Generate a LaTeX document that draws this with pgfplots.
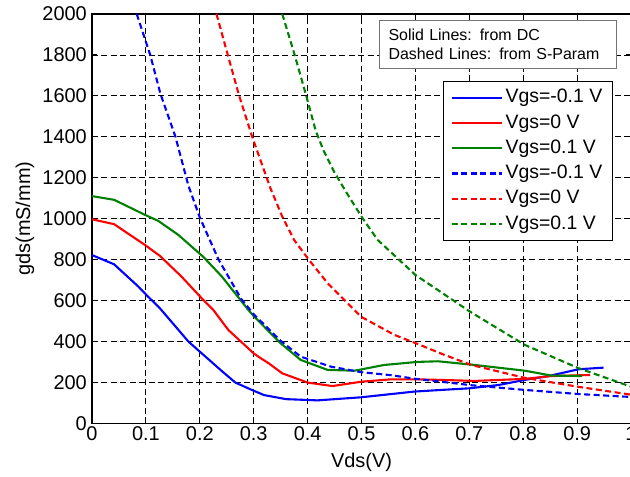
\documentclass[border=0pt]{standalone}
\usepackage{fontspec}
\setmainfont{Liberation Sans}
\usepackage{pgfplots}
\pgfplotsset{compat=1.18}
\definecolor{mgreen}{rgb}{0,0.5,0}
\begin{document}
\begin{tikzpicture}
\begin{axis}[
  at={(0,0)}, anchor=south west,
  scale only axis, width=539bp, height=409.3bp,
  xmin=0, xmax=1, ymin=0, ymax=2000,
  xtick={0,0.1,0.2,0.3,0.4,0.5,0.6,0.7,0.8,0.9,1},
  ytick={0,200,400,600,800,1000,1200,1400,1600,1800,2000},
  /pgf/number format/assume math mode=true,
  /pgf/number format/1000 sep={},
  tick label style={font=\fontsize{20}{24}\selectfont},
  yticklabel style={inner xsep=5bp},
  label style={font=\fontsize{20}{24}\selectfont},
  tick align=inside, major tick length=5bp,
  axis line style={line width=1.2bp},
  every tick/.style={black, line width=1bp},
  grid=major,
  major grid style={black, line width=0.8bp, dash pattern=on 6bp off 3.5bp},
  xlabel={Vds(V)}, ylabel={gds(mS/mm)},
  xlabel style={at={(axis description cs:0.5,-0.0945)}, anchor=center},
  ylabel style={at={(axis description cs:-0.1244,0.5)}, anchor=center},
  legend style={at={(axis description cs:0.6512,0.8363)}, anchor=north west,
    draw=black, line width=1bp, fill=white, inner xsep=7bp, inner ysep=3.5bp,
    font=\fontsize{19.5}{23}\selectfont,
    nodes={text height=14.5bp, text depth=4.3bp, inner ysep=3.25bp, inner xsep=3bp},
    row sep=0pt},
  legend cell align=left,
  legend image code/.code={\draw[#1] (0bp,0bp) -- (50bp,0bp);},
]
% DC (solid)
\addplot[color=blue, line width=2.1bp] coordinates {
(0,822) (0.041,777) (0.086,668) (0.101,627) (0.126,562) (0.179,399) (0.2035,342) (0.241,255) (0.266,199) (0.294,166) (0.319,138) (0.36,118) (0.4,114) (0.418,112) (0.499,127) (0.598,155) (0.648,163) (0.7,171) (0.754,187) (0.803,212) (0.847,231) (0.9026,264) (0.949,272)};
\addlegendentry{Vgs=-0.1 V}
\addplot[color=red, line width=2.1bp] coordinates {
(0,997) (0.041,973) (0.098,872) (0.126,818) (0.166,717) (0.2035,611) (0.225,554) (0.253,456) (0.2998,342) (0.313,318) (0.328,293) (0.353,244) (0.4,199) (0.446,182) (0.499,203) (0.555,215) (0.598,215) (0.648,212) (0.71,207) (0.803,217) (0.853,231) (0.924,236)};
\addlegendentry{Vgs=0 V}
\addplot[color=mgreen, line width=2.1bp] coordinates {
(0,1110) (0.041,1092) (0.098,1019) (0.123,989) (0.16,921) (0.207,812) (0.241,717) (0.29,554) (0.301,521) (0.35,391) (0.387,310) (0.437,261) (0.487,257) (0.542,285) (0.604,300) (0.642,303) (0.71,285) (0.803,257) (0.853,233) (0.909,231)};
\addlegendentry{Vgs=0.1 V}
% S-parameter (dashed)
\addplot[color=blue, line width=2.1bp, dash pattern=on 6bp off 3.5bp] coordinates {
(0.083,2000) (0.099,1872) (0.108,1800) (0.127,1610) (0.1546,1402) (0.179,1160) (0.2,1006) (0.217,905) (0.235,799) (0.277,607) (0.301,530) (0.35,403) (0.387,326) (0.443,277) (0.499,250) (0.555,235) (0.601,217) (0.648,203) (0.704,186) (0.803,163) (0.903,143) (0.983,131) (1.0,129)};
\addlegendentry{Vgs=-0.1 V}
\addplot[color=red, line width=2.1bp, dash pattern=on 6bp off 3.5bp] coordinates {
(0.231,2000) (0.251,1809) (0.2725,1605) (0.297,1401) (0.331,1149) (0.353,1010) (0.375,896) (0.4,807) (0.437,685) (0.499,521) (0.561,432) (0.601,391) (0.654,334) (0.704,285) (0.803,222) (0.903,178) (1.0,140)};
\addlegendentry{Vgs=0 V}
\addplot[color=mgreen, line width=2.1bp, dash pattern=on 6bp off 3.5bp] coordinates {
(0.353,2000) (0.375,1809) (0.397,1605) (0.415,1430) (0.43,1330) (0.45,1225) (0.475,1115) (0.502,1002) (0.53,896) (0.6,725) (0.701,546) (0.803,383) (0.903,269) (1.0,179)};
\addlegendentry{Vgs=0.1 V}
\node[draw=black!55, line width=1bp, fill=white, anchor=north west,
  inner xsep=9bp, inner ysep=8bp, text width=219bp, align=left,
  font=\fontsize{16}{20}\selectfont]
  at (axis description cs:0.5325,0.9853)
  {Solid Lines: from DC\\Dashed Lines: from S-Param};
\end{axis}
\pgfresetboundingbox
\path (-92bp,-53.7bp) rectangle (538bp,423.3bp);
\end{tikzpicture}
\end{document}
